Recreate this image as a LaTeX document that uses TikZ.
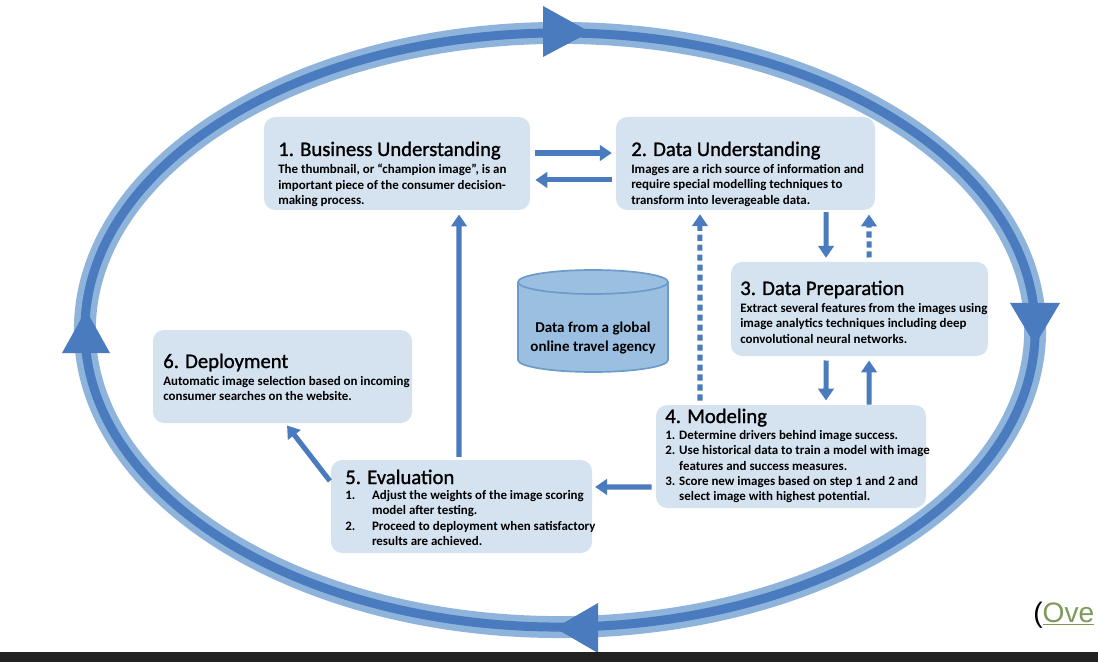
\documentclass[tikz,border=0pt]{standalone}
\usepackage{fontspec}
\setmainfont{Carlito}
\setsansfont{Liberation Sans}
\newfontfamily\stagefont[FakeBold=1.2]{Carlito}
\usetikzlibrary{arrows.meta,fit}

\definecolor{ringlight}{HTML}{8FB4DC}
\definecolor{ringdark}{HTML}{4A7BBF}
\definecolor{boxfill}{HTML}{D5E2F0}
\definecolor{cylfill}{HTML}{9BBFE1}
\definecolor{cylline}{HTML}{6C9BCC}
\definecolor{linkgreen}{HTML}{7E995A}
\definecolor{barblack}{HTML}{222222}

\tikzset{
    stage/.style={fill=boxfill, draw=none, rounded corners=8pt, inner sep=0pt},
    stagetitle/.style={anchor=base west, inner sep=0pt, font=\stagefont\fontsize{14.7}{16}\selectfont},
    stagebody/.style={anchor=north west, inner sep=0pt, align=left, font=\bfseries\fontsize{9.2}{10.9}\selectfont},
    flow/.style={draw=ringdark, line width=3.6pt, -{Triangle[width=11pt,length=8.5pt]}},
    backflow/.style={flow, dash pattern=on 4.3pt off 2.8pt},
}

\begin{document}
\begin{tikzpicture}[x=0.025cm, y=-0.025cm]
    \useasboundingbox (0,0) rectangle (1098,662);
    \fill[white] (0,0) rectangle (1098,662);

    % outer cycle
    \draw[ringlight, line width=15.6pt] (560,330) ellipse [x radius=11.875cm, y radius=7.425cm];
    \draw[ringdark, line width=6.4pt] (560,330) ellipse [x radius=11.875cm, y radius=7.425cm];
    \fill[ringdark] (543,6) -- (590,32) -- (543,57) -- cycle;
    \fill[ringdark] (1010,303) -- (1035,345) -- (1060,303) -- cycle;
    \fill[ringdark] (598,603) -- (555,628) -- (598,653) -- cycle;
    \fill[ringdark] (62,353) -- (86,310) -- (110,353) -- cycle;

    % stages
    \node[stage, fit={(264,117) (530,210)}] (bu) {};
    \node[stage, fit={(616,117) (875,210)}] (du) {};
    \node[stage, fit={(731,262) (988,356)}] (dp) {};
    \node[stage, fit={(656,405) (926,508)}] (mo) {};
    \node[stage, fit={(331,460) (592,553)}] (ev) {};
    \node[stage, fit={(153,330) (412,423)}] (de) {};

    \node[stagetitle] (bu-title) at (278,156) {1. Business Understanding};
    \node[stagebody] (bu-body) at (278,164) {The thumbnail, or “champion image”, is an\\important piece of the consumer decision-\\making process.};

    \node[stagetitle] (du-title) at (631,156) {2. Data Understanding};
    \node[stagebody] (du-body) at (631,164) {Images are a rich source of information and\\require special modelling techniques to\\transform into leverageable data.};

    \node[stagetitle] (dp-title) at (740,295) {3. Data Preparation};
    \node[stagebody] (dp-body) at (740,303) {Extract several features from the images using\\image analytics techniques including deep\\convolutional neural networks.};

    \node[stagetitle] (mo-title) at (665,423) {4. Modeling};
    \node[stagebody] (mo-body) at (665,430) {1. Determine drivers behind image success.\\2. Use historical data to train a model with image\\\hphantom{2. }features and success measures.\\3. Score new images based on step 1 and 2 and\\\hphantom{3. }select image with highest potential.};

    \node[stagetitle] (ev-title) at (345,484) {5. Evaluation};
    \node[stagebody] (ev-body) at (345,490) {\makebox[19pt][l]{1.}Adjust the weights of the image scoring\\\hspace*{19pt}model after testing.\\\makebox[19pt][l]{2.}Proceed to deployment when satisfactory\\\hspace*{19pt}results are achieved.};

    \node[stagetitle] (de-title) at (163,368) {6. Deployment};
    \node[stagebody] (de-body) at (163,376) {Automatic image selection based on incoming\\consumer searches on the website.};

    % data store
    \fill[cylfill] (518,282) -- (518,360) arc[start angle=180, end angle=360, x radius=1.875cm, y radius=0.3cm] -- (668,282) arc[start angle=0, end angle=180, x radius=1.875cm, y radius=0.3cm] -- cycle;
    \draw[cylline, line width=1.2pt] (518,282) -- (518,360) arc[start angle=180, end angle=360, x radius=1.875cm, y radius=0.3cm] -- (668,282);
    \draw[cylline, line width=1.2pt] (593,282) ellipse [x radius=1.875cm, y radius=0.3cm];
    \node[align=center, inner sep=0pt, font=\bfseries\fontsize{10.7}{14}\selectfont] (store) at (593,338) {Data from a global\\online travel agency};

    % connectors
    \draw[flow, shorten <=3.6pt, shorten >=2.8pt] ([yshift=7.47pt]bu.east) -- ([yshift=7.47pt]du.west);
    \draw[flow, shorten <=2.8pt, shorten >=3.6pt] ([yshift=-11.7pt]du.west) -- ([yshift=-11.7pt]bu.east);
    \draw[flow, shorten <=1.4pt, shorten >=2.8pt] ([xshift=57.3pt]du.south) -- ([xshift=-23.8pt]dp.north);
    \draw[backflow, shorten <=3pt, shorten >=3pt] ([xshift=6.8pt]dp.north) -- ([xshift=87.8pt]du.south);
    \draw[flow, shorten <=3pt, shorten >=3pt] ([xshift=-23.8pt]dp.south) -- ([xshift=24.9pt]mo.north);
    \draw[flow, shorten <=0pt, shorten >=3pt] ([xshift=55.5pt]mo.north) -- ([xshift=6.8pt]dp.south);
    \draw[backflow, shorten <=3pt, shorten >=2.8pt] ([xshift=-64.7pt]mo.north) -- ([xshift=-32.4pt]du.south);
    \draw[flow, shorten <=3pt, shorten >=2pt] ([yshift=-21.7pt]mo.west) -- ([yshift=13.9pt]ev.east);
    \draw[flow, shorten <=2pt, shorten >=3pt] ([xshift=-1.8pt]ev.north) -- ([xshift=44.1pt]bu.south);
    \draw[flow, shorten <=1pt, shorten >=2pt] ([yshift=17.4pt]ev.west) -- ([xshift=2pt]de.south);

    % cut-off caption and bar
    \node[anchor=base west, inner sep=0pt, font=\sffamily\fontsize{20}{22}\selectfont] (cite) at (1033,622) {(\textcolor{linkgreen}{\underline{Ove}}};
    \fill[barblack] (0,652) rectangle (1098,662);
\end{tikzpicture}
\end{document}
